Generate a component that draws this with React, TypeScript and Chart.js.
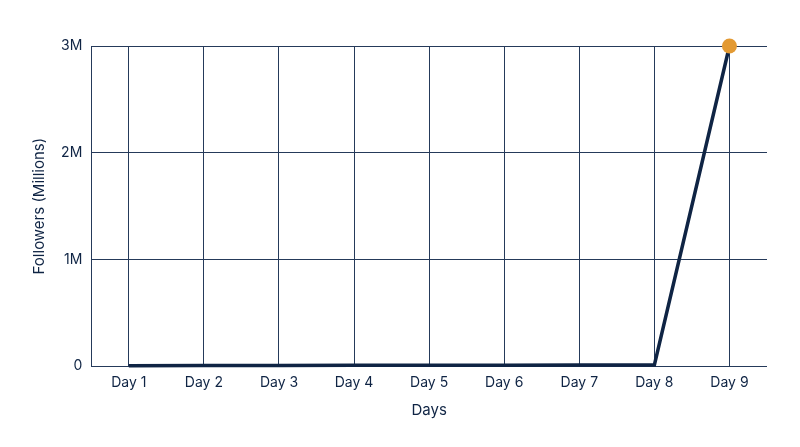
import React, { useEffect, useRef } from "react";
import { Chart, registerables } from "chart.js";

Chart.register(...registerables);

const categories = ["Day 1", "Day 2", "Day 3", "Day 4", "Day 5", "Day 6", "Day 7", "Day 8", "Day 9"];
const followers = [5000, 6000, 7000, 8000, 9000, 10000, 11000, 12000, 3000000];
const yTickValues = [0, 1000000, 2000000, 3000000];
const yTickLabels = ["0", "1M", "2M", "3M"];

const NAVY = "#0f2444";
const GRID = "#253a5a";
const ORANGE = "#e39a33";

export default function App() {
  const ref = useRef<HTMLCanvasElement | null>(null);

  useEffect(() => {
    document.body.style.margin = "0";
    if (!ref.current) return;
    const chart = new Chart(ref.current, {
      type: "line",
      data: {
        labels: categories,
        datasets: [
          {
            data: followers,
            borderColor: NAVY,
            borderWidth: 3.5,
            tension: 0,
            fill: false,
            clip: false,
            pointRadius: followers.map((_, i) => (i === followers.length - 1 ? 7.5 : 0)),
            pointHoverRadius: 7.5,
            pointBackgroundColor: ORANGE,
            pointBorderColor: ORANGE,
            pointBorderWidth: 0,
          },
        ],
      },
      options: {
        responsive: false,
        animation: false,
        layout: { padding: { top: 46, right: 33, bottom: 24, left: 26 } },
        plugins: { legend: { display: false }, tooltip: { enabled: false } },
        scales: {
          x: {
            offset: true,
            grid: { offset: false, color: GRID, lineWidth: 1, drawTicks: false },
            border: { display: false },
            ticks: { color: NAVY, font: { family: "Inter", size: 14 }, padding: 8 },
            title: { display: true, text: "Days", color: NAVY, font: { family: "Inter", size: 15 }, padding: { top: 2 } },
          },
          y: {
            min: 0,
            max: 3000000,
            afterBuildTicks: (axis: any) => {
              axis.ticks = yTickValues.map((v) => ({ value: v }));
            },
            grid: { color: GRID, lineWidth: 1, drawTicks: false },
            border: { display: true, color: GRID, width: 1 },
            ticks: {
              color: NAVY,
              font: { family: "Inter", size: 14 },
              padding: 9,
              callback: (v: any) => {
                const i = yTickValues.indexOf(Number(v));
                return i >= 0 ? yTickLabels[i] : "";
              },
            },
            title: { display: true, text: "Followers (Millions)", color: NAVY, font: { family: "Inter", size: 15 }, padding: { bottom: 4 } },
          },
        },
      },
    });
    return () => chart.destroy();
  }, []);

  return <canvas ref={ref} width={800} height={447} style={{ display: "block" }} />;
}
